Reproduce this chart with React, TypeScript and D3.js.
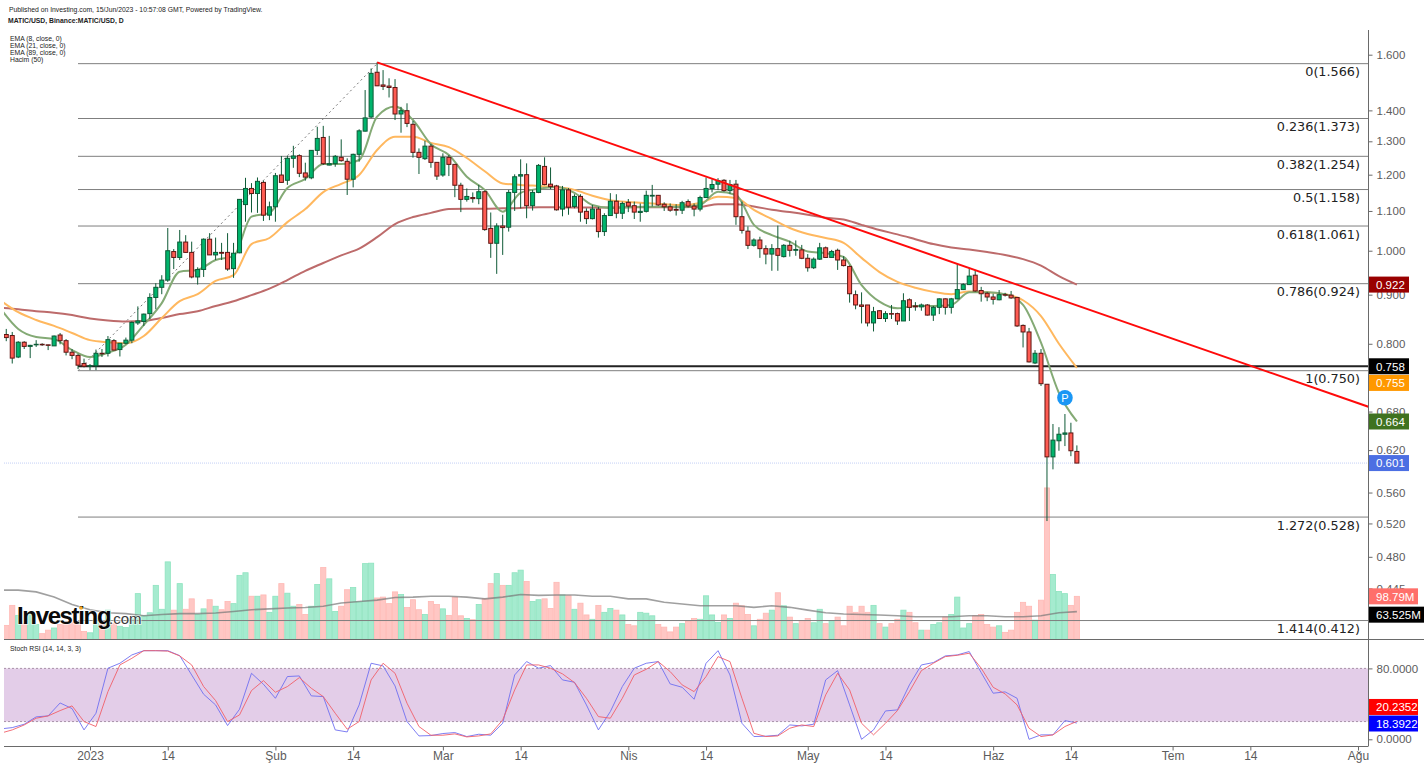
import React, { useEffect, useRef } from "react";
import * as d3 from "d3";

const firstCandle = Date.UTC(2022, 11, 18);

const candleOpen = [
  .818, .816, .775, .803, .795, .798, .799, .798, .796, .817,
  .806, .784, .778, .763, .758, .759, .782, .782, .806, .789,
  .801, .807, .841, .844, .860, .894, .916, .932, .998, .984,
  1.021, .996, .939, .956, 1.028, .990, .996, .996, .958, .995,
  1.117, 1.161, 1.147, 1.178, 1.089, 1.111, 1.199, 1.184, 1.248, 1.256,
  1.205, 1.191, 1.272, 1.312, 1.228, 1.232, 1.251, 1.239, 1.187, 1.260,
  1.332, 1.378, 1.534, 1.488, 1.484, 1.479, 1.388, 1.399, 1.354, 1.266,
  1.247, 1.285, 1.236, 1.199, 1.251, 1.230, 1.170, 1.131, 1.136, 1.133,
  1.152, 1.055, 1.018, 1.061, 1.058, 1.150, 1.196, 1.200, 1.114, 1.150,
  1.224, 1.173, 1.168, 1.105, 1.157, 1.112, 1.139, 1.099, 1.080, 1.105,
  1.047, 1.088, 1.126, 1.094, 1.123, 1.114, 1.096, 1.099, 1.140, 1.142,
  1.118, 1.111, 1.104, 1.102, 1.125, 1.113, 1.105, 1.136, 1.161, 1.173,
  1.184, 1.155, 1.173, 1.085, 1.048, 1.013, 1.026, 1.005, .992, 1.005,
  .986, 1.013, 1.001, 1.002, .982, .960, .980, 1.007, .984, 1.001,
  .978, .963, .900, .878, .878, .841, .866, .850, .860, .860,
  .845, .889, .876, .874, .878, .857, .873, .891, .873, .891,
  .911, .922, .943, .909, .903, .895, .889, .900, .899, .894,
  .836, .823, .764, .782, .726, .610, .634, .644, .646, .618,
];
const candleHigh = [
  .829, .823, .805, .805, .798, .807, .801, .798, .816, .821,
  .809, .790, .781, .772, .762, .789, .790, .815, .809, .801,
  .812, .844, .875, .860, .903, .925, .943, 1.056, 1.004, 1.051,
  1.038, 1.022, .961, 1.030, 1.043, 1.032, 1.019, 1.043, 1.019, 1.132,
  1.191, 1.176, 1.192, 1.183, 1.125, 1.205, 1.255, 1.255, 1.286, 1.260,
  1.235, 1.273, 1.346, 1.349, 1.317, 1.258, 1.306, 1.248, 1.262, 1.338,
  1.470, 1.548, 1.571, 1.542, 1.512, 1.509, 1.412, 1.424, 1.365, 1.278,
  1.302, 1.292, 1.236, 1.263, 1.258, 1.230, 1.177, 1.161, 1.150, 1.171,
  1.155, 1.096, 1.068, 1.090, 1.157, 1.201, 1.245, 1.233, 1.157, 1.231,
  1.251, 1.221, 1.171, 1.168, 1.162, 1.145, 1.145, 1.107, 1.116, 1.111,
  1.094, 1.148, 1.145, 1.125, 1.132, 1.125, 1.120, 1.155, 1.171, 1.143,
  1.123, 1.120, 1.118, 1.127, 1.131, 1.120, 1.141, 1.192, 1.187, 1.190,
  1.187, 1.185, 1.185, 1.125, 1.060, 1.030, 1.034, 1.013, 1.016, 1.062,
  1.016, 1.024, 1.025, 1.014, .992, .984, 1.019, 1.010, 1.002, 1.005,
  .987, .965, .909, .905, .878, .874, .867, .865, .878, .862,
  .903, .892, .884, .881, .880, .876, .892, .892, .893, .970,
  .925, .959, .955, .917, .906, .902, .910, .904, .908, .895,
  .838, .831, .788, .790, .726, .660, .655, .676, .662, .627,
];
const candleLow = [
  .805, .763, .773, .790, .773, .794, .796, .788, .796, .799,
  .778, .771, .753, .756, .751, .751, .775, .776, .788, .776,
  .799, .801, .837, .835, .849, .869, .901, .928, .957, .978,
  .995, .936, .922, .939, .990, .978, .978, .953, .937, .994,
  1.072, 1.096, 1.095, 1.074, 1.076, 1.072, 1.177, 1.171, 1.220, 1.193,
  1.183, 1.187, 1.258, 1.228, 1.227, 1.223, 1.238, 1.143, 1.164, 1.238,
  1.331, 1.374, 1.484, 1.470, 1.444, 1.368, 1.327, 1.345, 1.250, 1.202,
  1.243, 1.220, 1.185, 1.194, 1.196, 1.137, 1.097, 1.125, 1.122, 1.118,
  1.049, .983, .946, .990, 1.047, 1.100, 1.107, 1.081, 1.101, 1.148,
  1.170, 1.159, 1.101, 1.086, 1.090, 1.107, 1.072, 1.066, 1.078, 1.032,
  1.036, 1.088, 1.081, 1.079, 1.097, 1.079, 1.072, 1.096, 1.112, 1.113,
  1.100, 1.098, 1.088, 1.092, 1.109, 1.086, 1.099, 1.135, 1.150, 1.157,
  1.152, 1.146, 1.064, 1.042, 1.004, 1.010, .983, .968, .953, .953,
  .984, .986, .988, .980, .951, .957, .978, .984, .983, .955,
  .963, .883, .869, .840, .834, .824, .849, .843, .849, .837,
  .845, .845, .866, .866, .856, .845, .859, .858, .860, .890,
  .910, .921, .906, .885, .886, .879, .888, .896, .891, .833,
  .793, .765, .762, .723, .523, .592, .619, .626, .611, .601,
];
const candleClose = [
  .812, .773, .803, .795, .797, .799, .798, .797, .815, .806,
  .784, .778, .760, .758, .759, .782, .781, .808, .788, .801,
  .807, .842, .845, .859, .894, .916, .932, 1.000, .984, 1.021,
  .996, .939, .956, 1.028, .990, .996, .994, .957, .994, 1.131,
  1.161, 1.147, 1.181, 1.089, 1.111, 1.197, 1.178, 1.248, 1.255, 1.204,
  1.193, 1.272, 1.309, 1.232, 1.232, 1.254, 1.241, 1.187, 1.260, 1.333,
  1.375, 1.530, 1.485, 1.483, 1.479, 1.388, 1.399, 1.357, 1.266, 1.251,
  1.285, 1.236, 1.196, 1.251, 1.230, 1.170, 1.131, 1.139, 1.133, 1.152,
  1.052, 1.018, 1.061, 1.057, 1.150, 1.194, 1.200, 1.114, 1.150, 1.227,
  1.172, 1.166, 1.103, 1.157, 1.110, 1.139, 1.097, 1.080, 1.105, 1.047,
  1.088, 1.126, 1.094, 1.120, 1.113, 1.097, 1.099, 1.142, 1.142, 1.116,
  1.111, 1.102, 1.102, 1.122, 1.113, 1.105, 1.136, 1.161, 1.172, 1.183,
  1.155, 1.172, 1.085, 1.050, 1.013, 1.026, 1.005, .992, 1.005, .989,
  1.013, 1.001, 1.003, .982, .960, .980, 1.007, .984, .998, .978,
  .965, .902, .878, .875, .841, .864, .850, .860, .859, .845,
  .887, .873, .874, .878, .857, .873, .891, .873, .891, .911,
  .922, .941, .908, .902, .895, .890, .900, .899, .893, .835,
  .823, .766, .782, .727, .610, .635, .644, .646, .619, .601,
];
// millions
const volume = [
  32, 78, 55, 36, 59, 34, 13, 21, 26, 34,
  40, 40, 40, 18, 15, 47, 40, 67, 36, 30,
  27, 47, 105, 54, 61, 124, 69, 178, 67, 128,
  69, 93, 57, 70, 91, 76, 68, 87, 82, 147,
  153, 99, 99, 102, 62, 99, 128, 106, 76, 80,
  57, 76, 126, 165, 139, 64, 76, 114, 119, 86,
  174, 175, 95, 97, 82, 109, 103, 73, 91, 68,
  57, 87, 80, 70, 55, 97, 54, 48, 45, 80,
  93, 128, 151, 124, 124, 153, 159, 133, 87, 91,
  93, 71, 131, 102, 100, 69, 83, 56, 46, 78,
  62, 71, 67, 56, 34, 31, 62, 60, 54, 34,
  28, 17, 28, 36, 41, 48, 46, 100, 56, 39,
  56, 48, 83, 77, 57, 31, 46, 60, 67, 107,
  77, 51, 36, 43, 48, 38, 69, 36, 43, 51,
  31, 76, 62, 76, 62, 78, 36, 28, 36, 46,
  67, 62, 38, 21, 21, 34, 38, 51, 57, 97,
  26, 36, 54, 57, 34, 28, 31, 16, 21, 62,
  85, 76, 44, 90, 348, 149, 110, 105, 78, 98.79,
];

const maStart = Date.UTC(2022, 11, 17);
const ema8 = [
  .871, .829, .813, .809, .788, .775, .783, .798, .837, .882, .951, .955, .978, .987, 1.085, 1.095,
  1.162, 1.188, 1.231, 1.231, 1.243, 1.379, 1.413, 1.368, 1.291, 1.258, 1.194, 1.157, 1.098, 1.149,
  1.160, 1.165, 1.149, 1.116, 1.108, 1.110, 1.111, 1.111, 1.111, 1.116, 1.152, 1.143, 1.064, 1.038,
  1.022, .998, .994, .985, .921, .885, .871, .876, .876, .878, .905, .905, .901, .878, .802, .711, .664,
];
const ema21 = [
  .888, .863, .847, .835, .821, .807, .803, .801, .815, .851, .886, .901, .930, .943, 1.016, 1.031,
  1.071, 1.105, 1.151, 1.174, 1.199, 1.273, 1.314, 1.314, 1.295, 1.282, 1.249, 1.210, 1.175, 1.171,
  1.168, 1.165, 1.157, 1.141, 1.129, 1.124, 1.121, 1.118, 1.116, 1.121, 1.138, 1.135, 1.103, 1.079,
  1.056, 1.041, 1.031, 1.019, .983, .950, .928, .915, .906, .901, .907, .905, .901, .888, .855, .800, .755,
];
const ema89 = [
  .872, .869, .865, .862, .857, .850, .846, .844, .845, .851, .859, .865, .876, .886, .899, .913,
  .932, .953, .971, .989, 1.005, 1.033, 1.066, 1.084, 1.095, 1.105, 1.106, 1.106, 1.107, 1.108,
  1.110, 1.110, 1.109, 1.109, 1.109, 1.110, 1.110, 1.110, 1.110, 1.111, 1.118, 1.118, 1.112, 1.103,
  1.097, 1.090, 1.082, 1.078, 1.064, 1.051, 1.040, 1.028, 1.016, 1.008, 1.003, .997, .990, .980, .965, .941, .922,
];
const volumeMa = [
  113, 113, 109, 97, 80, 68, 61, 59, 54, 57, 59, 59, 60.5, 64, 68, 70, 72, 73, 76, 83.5, 87,
  90, 96, 97, 99, 99, 97, 93, 97, 103, 101, 102, 102, 99, 99, 93, 93, 85, 81, 77, 77,
  77, 73.5, 77, 73.5, 67, 61, 58, 57, 56, 54, 52, 52, 52, 54, 54, 52, 52, 54, 61, 63.525,
];

const stochK = [
  11.7, 13.2, 17, 25.3, 26.4, 41, 34.7, 10.6, 29.4, 80.2, 85.8, 95.2, 100, 100, 100, 94.4,
  72.6, 50.8, 38.8, 15.5, 33.9, 74.5, 62.1, 46.3, 70.8, 71.5, 49, 48.2, 10.6, 8.3, 38.8, 85.8,
  82.8, 60.2, 20, 3.8, 4.2, 6.5, 7.6, 3.1, 5.7, 4.6, 18.1, 72.6, 87.7, 80.2, 83.2,
  67, 64.4, 38.8, 10.6, 31.3, 59.5, 80.2, 85.8, 87.7, 62.5, 58.7, 45.2, 85.8, 100, 72.6, 18.1,
  3.1, 3.5, 4.6, 16.2, 15.1, 17, 67, 77.5, 38.8, 0, 10.6, 32, 33.2, 61.4, 83.9, 86.6,
  94.1, 95.2, 99, 75.3, 52, 53.5, 46.3, 0, 5, 5, 21.1, 18.3922,
];
const stochD = [
  6.8, 10.6, 16.2, 23.8, 26.4, 32.4, 37.7, 20, 14.4, 53.8, 83.9, 91.4, 100, 100, 99.5, 94.1,
  83.9, 59.5, 43.7, 20, 27.5, 55, 66.2, 53.1, 59.5, 69.6, 57.6, 48.2, 29.4, 11.4, 20, 67,
  85.8, 74.5, 40.7, 14.4, 4.6, 4.6, 6.1, 2.7, 3.8, 6.1, 21.9, 55.7, 83.9, 83.9, 80.2,
  73.8, 64, 46.3, 25.6, 23.8, 46.3, 72.6, 79, 87.7, 76.4, 61.4, 53.8, 70.8, 93.3, 87.7, 46.3,
  6.8, 3.1, 3.8, 12.5, 16.2, 14.4, 50.1, 74.5, 55.7, 18.1, 5, 18.1, 32.4, 53.8, 77.5, 85.8,
  93.3, 94.8, 97.1, 80.2, 58.7, 51.2, 38.8, 12.5, 3.1, 5, 14.4, 20.2352,
];

const fibRatios = ["0", "0.236", "0.382", "0.5", "0.618", "0.786", "1", "1.272", "1.414"];
const fibPrices = [1.566, 1.373, 1.254, 1.158, 1.061, 0.924, 0.75, 0.528, 0.412];
const priceTicks = [1.6, 1.4, 1.3, 1.2, 1.1, 1.0, 0.9, 0.8, 0.68, 0.62, 0.56, 0.52, 0.48, 0.445];
const timeTicks = [
  [2023, 0, 1, "2023"], [2023, 0, 14, "14"], [2023, 1, 1, "Şub"], [2023, 1, 14, "14"],
  [2023, 2, 1, "Mar"], [2023, 2, 14, "14"], [2023, 3, 1, "Nis"], [2023, 3, 14, "14"],
  [2023, 4, 1, "May"], [2023, 4, 14, "14"], [2023, 5, 1, "Haz"], [2023, 5, 14, "14"],
  [2023, 6, 1, "Tem"], [2023, 6, 14, "14"], [2023, 7, 1, "Ağu"],
] as [number, number, number, string][];
const legendLines = ["EMA (8, close, 0)", "EMA (21, close, 0)", "EMA (89, close, 0)", "Hacim (50)"];

const trendDates = [Date.UTC(2023, 1, 18), Date.UTC(2023, 7, 3)];
const trendPrices = [1.571, 0.687];
const fibSwing = [Date.UTC(2022, 11, 30), Date.UTC(2023, 1, 18)];
const resistance = 0.758;
const lastPrice = 0.601;

const sans = "'Liberation Sans', Arial, sans-serif";
const PLOT_L = 4;
const PLOT_R = 1368;
const VOL_BASE = 639.3;
const RSI_BOTTOM = 746.5;

const App: React.FC = () => {
  const chartRef = useRef<SVGSVGElement>(null);

  useEffect(() => {
    const svg = d3.select(chartRef.current);
    svg.selectAll("*").remove();

    const x = d3
      .scaleUtc()
      .domain([new Date(Date.UTC(2023, 0, 1)), new Date(Date.UTC(2023, 7, 1))])
      .range([90, 1358]);
    const y = d3.scaleLog().domain([1.6, 0.445]).range([54.7, 588.4]);
    const vy = d3.scaleLinear().domain([0, 100]).range([VOL_BASE, VOL_BASE - 43.5]);
    const ry = d3.scaleLinear().domain([0, 80]).range([739.3, 668.4]);

    const dayX = (start: number, i: number, step = 1) =>
      x(d3.utcDay.offset(new Date(start), i * step));

    svg
      .append("defs")
      .append("clipPath")
      .attr("id", "plot-clip")
      .append("rect")
      .attr("x", PLOT_L)
      .attr("y", 0)
      .attr("width", PLOT_R - PLOT_L)
      .attr("height", 768);

    const plot = svg.append("g").attr("clip-path", "url(#plot-clip)");

    // volume
    plot
      .selectAll(".vol")
      .data(volume)
      .enter()
      .append("rect")
      .attr("class", "vol")
      .attr("x", (_, i) => dayX(firstCandle, i) - 2.6)
      .attr("y", (d) => vy(d))
      .attr("width", 5.2)
      .attr("height", (d) => VOL_BASE - vy(d))
      .attr("fill", (_, i) => (candleClose[i] >= candleOpen[i] ? "#a5ebcf" : "#ffc7c4"))
      .attr("stroke", (_, i) => (candleClose[i] >= candleOpen[i] ? "#8ee3bf" : "#ffb8b4"))
      .attr("stroke-width", 0.8);

    const volLine = d3
      .line<number>()
      .x((_, i) => dayX(maStart, i, 3))
      .y((d) => vy(d));
    plot
      .append("path")
      .attr("d", volLine(volumeMa))
      .attr("fill", "none")
      .attr("stroke", "#777")
      .attr("stroke-opacity", 0.7)
      .attr("stroke-width", 1.6);

    // fib levels
    plot
      .selectAll(".fib")
      .data(fibPrices)
      .enter()
      .append("line")
      .attr("class", "fib")
      .attr("x1", 78)
      .attr("x2", PLOT_R)
      .attr("y1", (d) => y(d))
      .attr("y2", (d) => y(d))
      .attr("stroke", "#7f7f7f")
      .attr("stroke-width", 1);

    plot
      .append("line")
      .attr("x1", x(new Date(fibSwing[0])))
      .attr("y1", y(fibPrices[6]))
      .attr("x2", x(new Date(fibSwing[1])))
      .attr("y2", y(fibPrices[0]))
      .attr("stroke", "#777")
      .attr("stroke-dasharray", "2 3");

    plot
      .append("line")
      .attr("x1", PLOT_L)
      .attr("x2", PLOT_R)
      .attr("y1", y(lastPrice))
      .attr("y2", y(lastPrice))
      .attr("stroke", "#c3cff5")
      .attr("stroke-dasharray", "1 1");

    plot
      .append("line")
      .attr("x1", 78)
      .attr("x2", PLOT_R)
      .attr("y1", y(resistance))
      .attr("y2", y(resistance))
      .attr("stroke", "#222")
      .attr("stroke-width", 2);

    // moving averages
    const maLine = d3
      .line<number>()
      .x((_, i) => dayX(maStart, i, 3))
      .y((d) => y(d))
      .curve(d3.curveMonotoneX);
    [
      { values: ema89, color: "#bd6b6b" },
      { values: ema21, color: "#ffb85f" },
      { values: ema8, color: "#84aa75" },
    ].forEach((s) => {
      plot
        .append("path")
        .attr("d", maLine(s.values))
        .attr("fill", "none")
        .attr("stroke", s.color)
        .attr("stroke-width", 2);
    });

    // candles
    const candles = plot
      .selectAll(".candle")
      .data(candleOpen)
      .enter()
      .append("g")
      .attr("class", "candle");
    candles
      .append("line")
      .attr("x1", (_, i) => dayX(firstCandle, i))
      .attr("x2", (_, i) => dayX(firstCandle, i))
      .attr("y1", (_, i) => y(candleHigh[i]))
      .attr("y2", (_, i) => y(candleLow[i]))
      .attr("stroke", "#0f5a37")
      .attr("stroke-width", 1);
    candles
      .append("rect")
      .attr("x", (_, i) => dayX(firstCandle, i) - 2)
      .attr("width", 4)
      .attr("y", (d, i) => y(Math.max(d, candleClose[i])))
      .attr("height", (d, i) => Math.max(0.5, Math.abs(y(d) - y(candleClose[i]))))
      .attr("fill", (d, i) => (candleClose[i] >= d ? "#00b46c" : "#ff5b52"))
      .attr("stroke", (d, i) => (candleClose[i] >= d ? "#0b5a36" : "#5e1512"))
      .attr("stroke-width", 1);

    // trend line
    plot
      .append("line")
      .attr("x1", x(new Date(trendDates[0])))
      .attr("y1", y(trendPrices[0]))
      .attr("x2", x(new Date(trendDates[1])))
      .attr("y2", y(trendPrices[1]))
      .attr("stroke", "#ff0a0a")
      .attr("stroke-width", 2);

    // fib labels
    svg
      .selectAll(".fib-label")
      .data(fibPrices)
      .enter()
      .append("text")
      .attr("class", "fib-label")
      .attr("x", 1360)
      .attr("y", (d) => y(d) + 12.5)
      .attr("text-anchor", "end")
      .attr("font-family", "'DejaVu Sans', sans-serif")
      .attr("font-size", 12.8)
      .attr("fill", "#222")
      .text((d, i) => `${fibRatios[i]}(${d.toFixed(3)})`);

    // pivot marker on the 8 ema
    const pivot = svg
      .append("g")
      .attr("transform", `translate(${dayX(firstCandle, 177)},${y(0.703)})`);
    pivot.append("circle").attr("r", 7.8).attr("fill", "#1a97f5");
    pivot
      .append("text")
      .attr("y", 4)
      .attr("text-anchor", "middle")
      .attr("font-family", sans)
      .attr("font-size", 11)
      .attr("fill", "#fff")
      .text("P");

    // stoch rsi pane
    const rsi = svg.append("g");
    rsi
      .append("rect")
      .attr("x", PLOT_L)
      .attr("width", PLOT_R - PLOT_L)
      .attr("y", ry(80))
      .attr("height", ry(20) - ry(80))
      .attr("fill", "#e3cde8");
    [80, 20].forEach((v) => {
      rsi
        .append("line")
        .attr("x1", PLOT_L)
        .attr("x2", PLOT_R)
        .attr("y1", ry(v))
        .attr("y2", ry(v))
        .attr("stroke", "#a892a8")
        .attr("stroke-dasharray", "2 2");
    });
    const rsiLine = d3
      .line<number>()
      .x((_, i) => dayX(maStart, i, 2))
      .y((d) => ry(d));
    const rsiPlot = rsi.append("g").attr("clip-path", "url(#plot-clip)");
    rsiPlot
      .append("path")
      .attr("d", rsiLine(stochK))
      .attr("fill", "none")
      .attr("stroke", "#6f6ff0")
      .attr("stroke-width", 0.9);
    rsiPlot
      .append("path")
      .attr("d", rsiLine(stochD))
      .attr("fill", "none")
      .attr("stroke", "#f0606a")
      .attr("stroke-width", 0.9);

    // frame
    const frame = svg.append("g").attr("stroke", "#6a6a6a");
    frame.append("line").attr("x1", PLOT_R + 0.5).attr("x2", PLOT_R + 0.5).attr("y1", 30).attr("y2", RSI_BOTTOM);
    frame.append("line").attr("x1", PLOT_L).attr("x2", 1424).attr("y1", 639.5).attr("y2", 639.5);
    frame.append("line").attr("x1", PLOT_L).attr("x2", PLOT_R).attr("y1", RSI_BOTTOM).attr("y2", RSI_BOTTOM);

    // axes
    const styleAxis = (g: any, size: number) => {
      g.select(".domain").remove();
      g.selectAll("line").attr("stroke", "#6a6a6a");
      g.selectAll("text")
        .attr("font-family", sans)
        .attr("font-size", size)
        .attr("fill", "#5c5c5c");
    };
    const priceAxis = svg
      .append("g")
      .attr("transform", `translate(${PLOT_R + 0.5},0)`)
      .call(
        d3
          .axisRight(y)
          .tickValues(priceTicks)
          .tickFormat((d) => d3.format(".3f")(d as number))
          .tickSize(4)
          .tickPadding(4)
      );
    styleAxis(priceAxis, 11.5);

    const rsiAxis = svg
      .append("g")
      .attr("transform", `translate(${PLOT_R + 0.5},0)`)
      .call(
        d3
          .axisRight(ry)
          .tickValues([80, 0])
          .tickFormat((d) => d3.format(".4f")(d as number))
          .tickSize(4)
          .tickPadding(4)
      );
    styleAxis(rsiAxis, 11.5);

    const timeAxis = svg
      .append("g")
      .attr("transform", `translate(0,${RSI_BOTTOM})`)
      .call(
        d3
          .axisBottom(x)
          .tickValues(timeTicks.map((t) => new Date(Date.UTC(t[0], t[1], t[2]))))
          .tickFormat((_, i) => timeTicks[i][3])
          .tickSize(4)
          .tickPadding(1)
      );
    styleAxis(timeAxis, 12);

    // value tags on the right axis
    const tags = [
      { text: "0.922", at: y(0.922), color: "#990000", w: 40 },
      { text: "0.758", at: y(0.758), color: "#000000", w: 40 },
      { text: "0.755", at: y(0.755) + 15, color: "#ff9800", w: 40 },
      { text: "0.664", at: y(0.664), color: "#3f7220", w: 40 },
      { text: "0.601", at: y(0.601), color: "#4c6fe3", w: 40 },
      { text: "98.79M", at: vy(98.79), color: "#ff6f6a", w: 49 },
      { text: "63.525M", at: vy(63.525) + 3, color: "#000000", w: 55 },
      { text: "20.2352", at: ry(20.2352) - 14.4, color: "#ff0000", w: 49 },
      { text: "18.3922", at: ry(18.3922) + 0.5, color: "#0000ff", w: 49 },
    ];
    const tag = svg
      .selectAll(".tag")
      .data(tags)
      .enter()
      .append("g")
      .attr("class", "tag")
      .attr("transform", (d) => `translate(${PLOT_R + 1},${d.at})`);
    tag
      .append("rect")
      .attr("y", -8)
      .attr("height", 16)
      .attr("width", (d) => d.w)
      .attr("fill", (d) => d.color);
    tag
      .append("text")
      .attr("x", 7)
      .attr("y", 4.3)
      .attr("font-family", sans)
      .attr("font-size", 11.5)
      .attr("fill", "#fff")
      .text((d) => d.text);

    // header text
    const small = (text: string, tx: number, ty: number, weight = "normal") =>
      svg
        .append("text")
        .attr("x", tx)
        .attr("y", ty)
        .attr("font-family", sans)
        .attr("font-size", 6.8)
        .attr("font-weight", weight)
        .attr("fill", "#222")
        .text(text);
    small("Published on Investing.com, 15/Jun/2023 - 10:57:08 GMT, Powered by TradingView.", 9, 11.5);
    small("MATIC/USD, Binance:MATIC/USD, D", 8, 23, "bold");
    legendLines.forEach((l, i) => small(l, 10, 40.5 + i * 7.2));
    small("Stoch RSI (14, 14, 3, 3)", 10, 650.5);

    // logo
    const logo = svg.append("g").attr("font-family", sans);
    logo
      .append("text")
      .attr("x", 17)
      .attr("y", 624)
      .attr("font-size", 24)
      .attr("font-weight", "bold")
      .attr("letter-spacing", -1.35)
      .attr("fill", "#0a0a0a")
      .attr("stroke", "#fff")
      .attr("stroke-width", 2)
      .attr("stroke-opacity", 0.6)
      .attr("paint-order", "stroke")
      .text("Investing");
    logo
      .append("text")
      .attr("x", 109)
      .attr("y", 624)
      .attr("font-size", 15)
      .attr("fill", "#3a3a3a")
      .attr("stroke", "#fff")
      .attr("stroke-width", 2)
      .attr("stroke-opacity", 0.6)
      .attr("paint-order", "stroke")
      .text(".com");
    logo.append("circle").attr("cx", 81).attr("cy", 608).attr("r", 1.8).attr("fill", "#f7a823");
  }, []);

  return (
    <svg
      ref={chartRef}
      width={1428}
      height={768}
      style={{ position: "fixed", left: 0, top: 0, background: "#fff" }}
    />
  );
};

export default App;
